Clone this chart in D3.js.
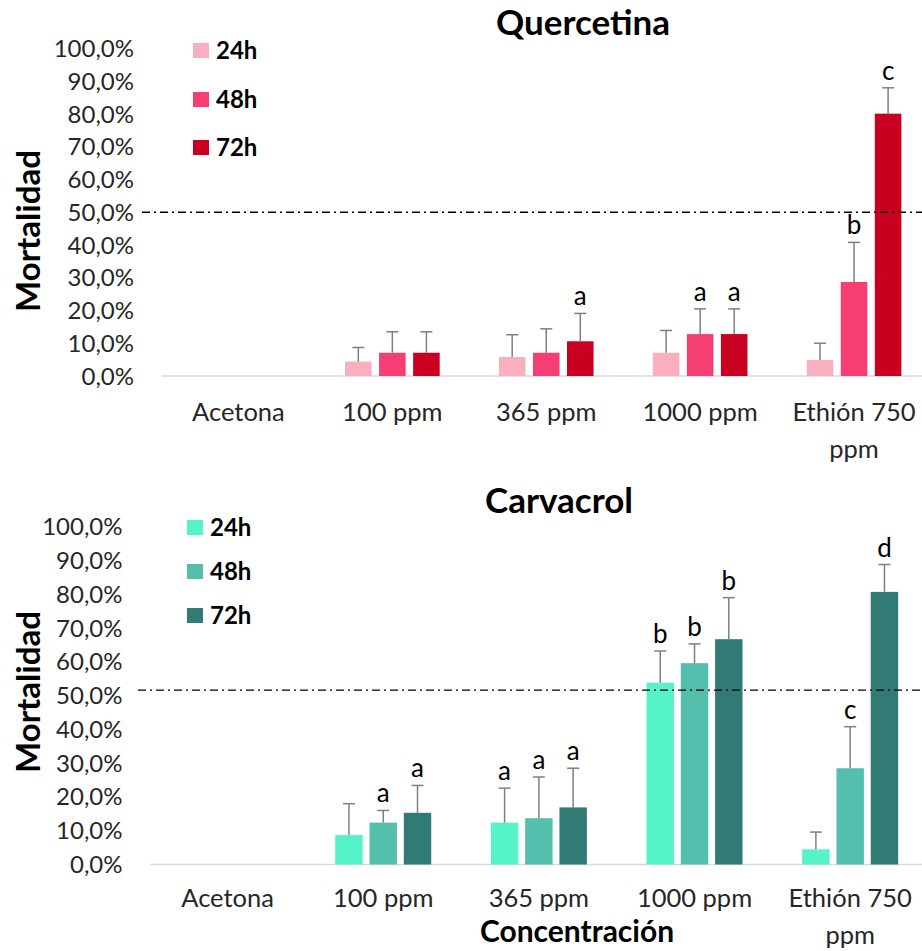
<!DOCTYPE html>
<html>
<head>
<meta charset="utf-8">
<script src="https://cdn.jsdelivr.net/npm/d3@7"></script>
<style>
  html, body { margin: 0; padding: 0; background: #fff; }
  svg { display: block; font-family: Lato, "Open Sans", sans-serif; }
</style>
</head>
<body>
<svg id="chart" width="922" height="951"></svg>
<script>
// Treatments and exposure times
const categories = ["Acetona", "100 ppm", "365 ppm", "1000 ppm", "Ethión 750 ppm"];
const times = ["24h", "48h", "72h"];
const yTicks = [0, 10, 20, 30, 40, 50, 60, 70, 80, 90, 100];

// Quercetina: mean mortality (%) and standard deviation per exposure time
const quercetina24 = [0, 4.4, 5.8, 7.1, 4.9];
const quercetina48 = [0, 7.1, 7.1, 12.8, 28.7];
const quercetina72 = [0, 7.1, 10.6, 12.8, 80.1];
const quercetinaSd24 = [0, 4.3, 6.8, 6.8, 5.1];
const quercetinaSd48 = [0, 6.4, 7.3, 7.7, 12.1];
const quercetinaSd72 = [0, 6.4, 8.5, 7.7, 7.9];
const quercetinaLetters24 = ["", "", "", "", ""];
const quercetinaLetters48 = ["", "", "", "a", "b"];
const quercetinaLetters72 = ["", "", "a", "a", "c"];

// Carvacrol: mean mortality (%) and standard deviation per exposure time
const carvacrol24 = [0, 8.7, 12.4, 53.8, 4.5];
const carvacrol48 = [0, 12.4, 13.7, 59.6, 28.5];
const carvacrol72 = [0, 15.3, 16.9, 66.7, 80.7];
const carvacrolSd24 = [0, 9.3, 10.2, 9.4, 5.1];
const carvacrolSd48 = [0, 3.6, 12.2, 5.7, 12.3];
const carvacrolSd72 = [0, 8.1, 11.6, 12.3, 8.1];
const carvacrolLetters24 = ["", "", "a", "b", ""];
const carvacrolLetters48 = ["", "a", "a", "b", "c"];
const carvacrolLetters72 = ["", "a", "a", "b", "d"];

// Reference lines (% mortality)
const quercetinaReference = 50;
const carvacrolReference = 51.6;

const quercetinaColors = ["#F9AFC0", "#F53F72", "#C9001F"];
const carvacrolColors = ["#56F2C8", "#55BFAE", "#327A74"];

const svg = d3.select("#chart");

function drawPanel(opt) {
  const g = svg.append("g");
  const y = d3.scaleLinear().domain([0, 100]).range([opt.y0, opt.y100]);
  const x = d3.scaleBand().domain(categories).range([opt.x0, opt.x1]);
  const xi = d3.scaleBand().domain(times).range([0, x.bandwidth()])
    .paddingInner(opt.padIn).paddingOuter(opt.padOut);

  // title
  g.append("text").attr("x", opt.titleX).attr("y", opt.titleY)
    .attr("text-anchor", "middle").attr("font-weight", 700).attr("font-size", 35)
    .attr("fill", "#000").text(opt.title);

  // y tick labels
  g.selectAll(".ytick").data(yTicks).join("text")
    .attr("x", opt.tickX).attr("y", d => y(d) + 8.5)
    .attr("text-anchor", "end").attr("font-size", 24).attr("fill", "#262626")
    .text(d => d3.format(".1f")(d).replace(".", ",") + "%");

  // y axis title
  g.append("text")
    .attr("transform", `translate(${opt.yTitleX},${opt.yTitleY}) rotate(-90)`)
    .attr("text-anchor", "middle").attr("font-weight", 700).attr("font-size", 33)
    .attr("fill", "#000").text("Mortalidad");

  // baseline
  g.append("line").attr("x1", opt.x0).attr("x2", opt.x1)
    .attr("y1", y(0)).attr("y2", y(0))
    .attr("stroke", "#D9D9D9").attr("stroke-width", 1.5);

  // category labels (wrapped)
  categories.forEach(c => {
    const lines = c === "Ethión 750 ppm" ? ["Ethión 750", "ppm"] : [c];
    const t = g.append("text").attr("text-anchor", "middle")
      .attr("font-size", 25.5).attr("fill", "#262626");
    lines.forEach((l, i) => {
      t.append("tspan").attr("x", x(c) + x.bandwidth() / 2)
        .attr("y", opt.catY + i * 37).text(l);
    });
  });

  // bars
  times.forEach((tm, k) => {
    const vals = opt.values[k], sds = opt.sds[k], letters = opt.letters[k];
    const data = categories.map((c, i) => ({ c, v: vals[i], sd: sds[i], l: letters[i] }));
    const gx = d => x(d.c) + xi(tm);
    g.selectAll(null).data(data).join("rect")
      .attr("x", gx).attr("width", xi.bandwidth())
      .attr("y", d => y(d.v)).attr("height", d => y(0) - y(d.v))
      .attr("fill", opt.colors[k]);
    const withErr = data.filter(d => d.v > 0);
    const cx = d => gx(d) + xi.bandwidth() / 2;
    g.selectAll(null).data(withErr).join("line")
      .attr("x1", cx).attr("x2", cx)
      .attr("y1", d => y(d.v)).attr("y2", d => y(d.v + d.sd))
      .attr("stroke", "#7F7F7F").attr("stroke-width", 1.5);
    g.selectAll(null).data(withErr).join("line")
      .attr("x1", d => cx(d) - 6).attr("x2", d => cx(d) + 6)
      .attr("y1", d => y(d.v + d.sd)).attr("y2", d => y(d.v + d.sd))
      .attr("stroke", "#7F7F7F").attr("stroke-width", 1.5);
    g.selectAll(null).data(data.filter(d => d.l)).join("text")
      .attr("x", cx).attr("y", d => y(d.v + d.sd) - 8)
      .attr("text-anchor", "middle").attr("font-size", 26).attr("fill", "#000")
      .text(d => d.l);
  });

  // reference line
  g.append("line").attr("x1", opt.refX).attr("x2", 922)
    .attr("y1", y(opt.reference)).attr("y2", y(opt.reference))
    .attr("stroke", "#000").attr("stroke-width", 1.3)
    .attr("stroke-dasharray", "8,4,2,4");

  // legend
  times.forEach((tm, k) => {
    g.append("rect").attr("x", opt.legX).attr("y", opt.legY[k] - 7)
      .attr("width", 16).attr("height", 15).attr("fill", opt.colors[k]);
    g.append("text").attr("x", opt.legX + 23).attr("y", opt.legY[k] + 9)
      .attr("font-weight", 700).attr("font-size", 24).attr("fill", "#000").text(tm);
  });
}

drawPanel({
  title: "Quercetina", titleX: 583, titleY: 35,
  y0: 376, y100: 48.5, x0: 161.5, x1: 931, padIn: 0.22, padOut: 0.87,
  tickX: 134, yTitleX: 40, yTitleY: 231, catY: 421, refX: 142,
  reference: quercetinaReference,
  values: [quercetina24, quercetina48, quercetina72],
  sds: [quercetinaSd24, quercetinaSd48, quercetinaSd72],
  letters: [quercetinaLetters24, quercetinaLetters48, quercetinaLetters72],
  colors: quercetinaColors,
  legX: 193, legY: [50, 99, 147]
});

drawPanel({
  title: "Carvacrol", titleX: 559, titleY: 513,
  y0: 864.5, y100: 526.7, x0: 149.75, x1: 928, padIn: 0.2, padOut: 0.87,
  tickX: 122.5, yTitleX: 40, yTitleY: 692, catY: 907, refX: 138,
  reference: carvacrolReference,
  values: [carvacrol24, carvacrol48, carvacrol72],
  sds: [carvacrolSd24, carvacrolSd48, carvacrolSd72],
  letters: [carvacrolLetters24, carvacrolLetters48, carvacrolLetters72],
  colors: carvacrolColors,
  legX: 187, legY: [527, 571, 615]
});

// x axis title
svg.append("text").attr("x", 577).attr("y", 942)
  .attr("text-anchor", "middle").attr("font-weight", 700).attr("font-size", 30)
  .attr("fill", "#000").text("Concentración");
</script>
</body>
</html>
